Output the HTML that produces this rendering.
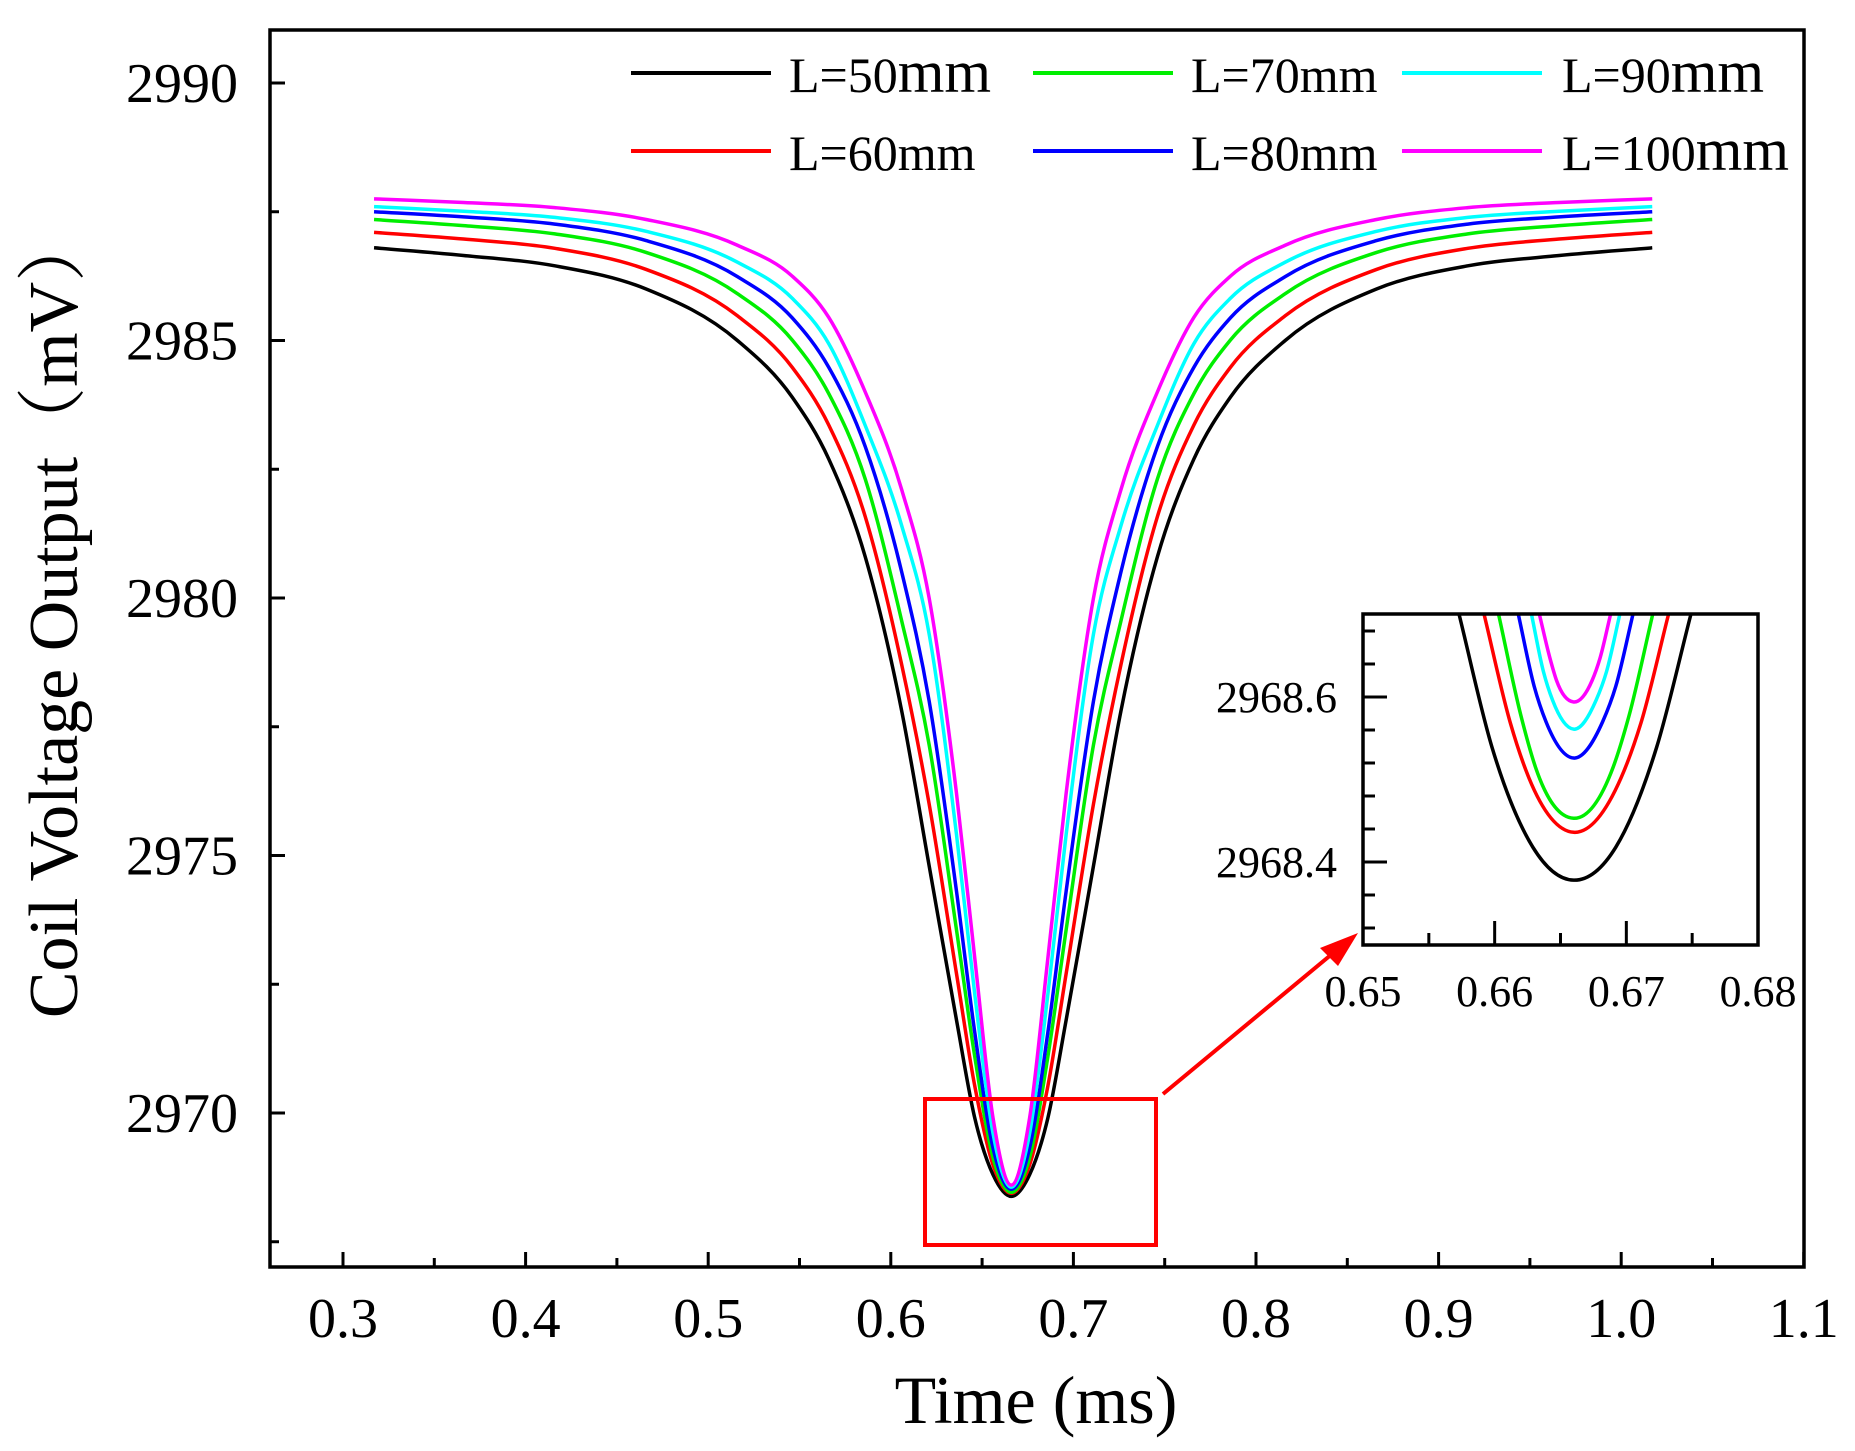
<!DOCTYPE html>
<html><head><meta charset="utf-8"><style>
html,body{margin:0;padding:0;background:#fff;}
svg{display:block;}
text{font-family:"Liberation Serif","Times New Roman",serif;fill:#000;}
</style></head>
<body>
<svg id="chart" width="1855" height="1451" viewBox="0 0 1855 1451" xmlns="http://www.w3.org/2000/svg">
<defs>
<clipPath id="mainClip"><rect x="270" y="30" width="1534" height="1237"/></clipPath>
<clipPath id="insetClip"><rect x="1363" y="614" width="395" height="331"/></clipPath>
</defs>
<g id="main-g"></g>
</svg>
<script>
// ---- main chart data ----
const xsMain = [0.317,0.366,0.416,0.466,0.516,0.546,0.566,0.586,0.606,0.621,0.636,0.646,0.656,0.666,0.676,0.686,0.696,0.711,0.726,0.746,0.766,0.786,0.816,0.866,0.916,0.966,1.017];
const seriesNames = ["L=50mm","L=60mm","L=70mm","L=80mm","L=90mm","L=100mm"];
const seriesColors = ["#000000","#ff0000","#00ee00","#0000ff","#00ffff","#ff00ff"];
const yL50 = [2986.80,2986.65,2986.45,2986.00,2985.00,2983.90,2982.70,2980.80,2977.80,2974.80,2971.80,2969.90,2968.80,2968.38,2968.80,2969.90,2971.80,2974.80,2977.80,2980.80,2982.70,2983.90,2985.00,2986.00,2986.45,2986.65,2986.80];
const yL60 = [2987.10,2986.97,2986.79,2986.38,2985.48,2984.48,2983.36,2981.58,2978.70,2976.00,2972.70,2970.52,2968.99,2968.44,2968.99,2970.52,2972.70,2976.00,2978.70,2981.58,2983.36,2984.48,2985.48,2986.38,2986.79,2986.97,2987.10];
const yL70 = [2987.35,2987.23,2987.07,2986.71,2985.91,2985.01,2983.97,2982.31,2979.55,2977.15,2973.55,2971.09,2969.13,2968.46,2969.13,2971.09,2973.55,2977.15,2979.55,2982.31,2983.97,2985.01,2985.91,2986.71,2987.07,2987.23,2987.35];
const yL80 = [2987.50,2987.40,2987.26,2986.94,2986.24,2985.44,2984.48,2982.94,2980.50,2978.00,2974.30,2971.56,2969.32,2968.52,2969.32,2971.56,2974.30,2978.00,2980.50,2982.94,2984.48,2985.44,2986.24,2986.94,2987.26,2987.40,2987.50];
const yL90 = [2987.60,2987.51,2987.39,2987.12,2986.52,2985.82,2984.94,2983.35,2981.40,2979.30,2975.40,2972.30,2969.60,2968.56,2969.60,2972.30,2975.40,2979.30,2981.40,2983.35,2984.94,2985.82,2986.52,2987.12,2987.39,2987.51,2987.60];
const yL100 = [2987.75,2987.68,2987.58,2987.35,2986.85,2986.25,2985.45,2984.00,2982.10,2980.00,2976.20,2973.00,2969.90,2968.60,2969.90,2973.00,2976.20,2980.00,2982.10,2984.00,2985.45,2986.25,2986.85,2987.35,2987.58,2987.68,2987.75];
const xTickLabels = ["0.3","0.4","0.5","0.6","0.7","0.8","0.9","1.0","1.1"];
const yTickLabels = ["2970","2975","2980","2985","2990"];
// ---- inset data ----
const inX50 = [0.6573,0.6598,0.6629,0.666,0.6692,0.6723,0.6749];
const inY50 = [2968.70,2968.539,2968.418,2968.378,2968.418,2968.539,2968.70];
const inX60 = [0.6592,0.6612,0.6626,0.666,0.6696,0.6711,0.6732];
const inY60 = [2968.70,2968.568,2968.502,2968.436,2968.502,2968.568,2968.70];
const inX70 = [0.6603,0.662,0.6631,0.666,0.669,0.6702,0.672];
const inY70 = [2968.70,2968.577,2968.515,2968.453,2968.515,2968.577,2968.70];
const inX80 = [0.6618,0.663,0.6639,0.666,0.6682,0.6692,0.6705];
const inY80 = [2968.70,2968.613,2968.57,2968.526,2968.57,2968.613,2968.70];
const inX90 = [0.6628,0.6637,0.6644,0.666,0.6677,0.6685,0.6695];
const inY90 = [2968.70,2968.631,2968.596,2968.561,2968.596,2968.631,2968.70];
const inX100 = [0.6634,0.6642,0.6647,0.666,0.6674,0.668,0.6688];
const inY100 = [2968.70,2968.647,2968.62,2968.594,2968.62,2968.647,2968.70];
const insetXTickLabels = ["0.65","0.66","0.67","0.68"];
const insetYTickLabels = ["2968.4","2968.6"];

const NS = "http://www.w3.org/2000/svg";
const root = document.getElementById("main-g");
function mk(tag, attrs, parent){
  const e = document.createElementNS(NS, tag);
  for (const k in attrs) e.setAttribute(k, attrs[k]);
  (parent||root).appendChild(e);
  return e;
}
const PX0=270, PX1=1804, PY0=30, PY1=1267;
function sx(v){ return 343 + (v-0.3)/0.1*182.6; }
function sy(v){ return 1113 - (v-2970)/5*257.5; }
const IX0=1363, IX1=1758, IY0=614, IY1=945;
function ix(v){ return IX0 + (v-0.65)/0.03*(IX1-IX0); }
function iy(v){ return 862 - (v-2968.4)/0.2*165; }

function smoothPath(px, py){
  const n = px.length, m = [];
  for (let i=0;i<n;i++){
    if (i===0) m.push((py[1]-py[0])/(px[1]-px[0]));
    else if (i===n-1) m.push((py[n-1]-py[n-2])/(px[n-1]-px[n-2]));
    else {
      const h0 = px[i]-px[i-1], h1 = px[i+1]-px[i];
      const s0 = (py[i]-py[i-1])/h0, s1 = (py[i+1]-py[i])/h1;
      m.push((s0*h1 + s1*h0)/(h0+h1));
    }
  }
  let d = "M"+px[0].toFixed(2)+","+py[0].toFixed(2);
  for (let i=0;i<n-1;i++){
    const h = px[i+1]-px[i];
    d += " C"+(px[i]+h/3).toFixed(2)+","+(py[i]+m[i]*h/3).toFixed(2)+" "+(px[i+1]-h/3).toFixed(2)+","+(py[i+1]-m[i+1]*h/3).toFixed(2)+" "+px[i+1].toFixed(2)+","+py[i+1].toFixed(2);
  }
  return d;
}

const mainYs = [yL50,yL60,yL70,yL80,yL90,yL100];
const seriesGroup = mk("g", {"clip-path":"url(#mainClip)"});


mainYs.forEach((ys, k) => {
  const p = mk("path", {d: smoothPath(xsMain.map(sx), ys.map(sy)), fill:"none", stroke:seriesColors[k], "stroke-width":3.5, "stroke-linejoin":"round"}, seriesGroup);
  
  
});

const frame = mk("rect", {x:PX0, y:PY0, width:PX1-PX0, height:PY1-PY0, fill:"none", stroke:"#000", "stroke-width":3.5});



for (let i=0;i<xTickLabels.length;i++){
  const v = parseFloat(xTickLabels[i]);
  const x = sx(v);
  const t = mk("line", {x1:x, y1:PY1, x2:x, y2:PY1-15, stroke:"#000", "stroke-width":3});
  
  
  if (i < xTickLabels.length-1){
    const m = mk("line", {x1:sx(v+0.05), y1:PY1, x2:sx(v+0.05), y2:PY1-9, stroke:"#000", "stroke-width":3});
    
    
  }
  const lb = mk("text", {x:x, y:1337, "text-anchor":"middle", "font-size":56});
  lb.textContent = xTickLabels[i];
  
  
}
for (let i=0;i<yTickLabels.length;i++){
  const v = parseFloat(yTickLabels[i]);
  const y = sy(v);
  const t = mk("line", {x1:PX0, y1:y, x2:PX0+15, y2:y, stroke:"#000", "stroke-width":3});
  
  
  const m = mk("line", {x1:PX0, y1:sy(v-2.5), x2:PX0+9, y2:sy(v-2.5), stroke:"#000", "stroke-width":3});
  
  
  const lb = mk("text", {x:238, y:y+19, "text-anchor":"end", "font-size":56});
  lb.textContent = yTickLabels[i];
  
  
}
const xt = mk("text", {x:1036, y:1423, "text-anchor":"middle", "font-size":68});
xt.textContent = "Time (ms)";


const yt = mk("text", {x:0, y:0, "text-anchor":"middle", "font-size":70, transform:"translate(77,615) rotate(-90)", style:'font-family:"Liberation Serif","Noto Serif CJK SC",serif'});
yt.textContent = "Coil Voltage Output（mV）";



// legend
const legendOrder = [0,2,4,1,3,5];
const legBigMm = [true,false,false,false,true,true];
const legX = [631,1033,1402];
const legLabelX = [789,1191,1562];
const legLineY = [73,151];
legendOrder.forEach((k, idx) => {
  const col = idx % 3, row = Math.floor(idx/3);
  const g = mk("g", {});
  
  
  mk("line", {x1:legX[col], y1:legLineY[row], x2:legX[col]+140, y2:legLineY[row], stroke:seriesColors[k], "stroke-width":4}, g);
  const tx = mk("text", {x:legLabelX[col], y:legLineY[row]+19, "font-size":50}, g);
  const name = seriesNames[k];
  const t1 = mk("tspan", {}, tx);
  t1.textContent = name.slice(0, name.length-2);
  const t2 = mk("tspan", {"font-size": legBigMm[k] ? 60 : 50}, tx);
  t2.textContent = "mm";
});

const zb = mk("rect", {x:925, y:1099, width:231, height:146, fill:"none", stroke:"#ff0000", "stroke-width":4});


const ar = mk("line", {x1:1163, y1:1094, x2:1338, y2:949, stroke:"#ff0000", "stroke-width":4});


const ah = mk("polygon", {points:"1358,933 1320,948 1338,966", fill:"#ff0000"});



const inset = mk("g", {});


mk("rect", {x:IX0, y:IY0, width:IX1-IX0, height:IY1-IY0, fill:"#fff", stroke:"none"}, inset);
const inXs = [inX50,inX60,inX70,inX80,inX90,inX100];
const inYs = [inY50,inY60,inY70,inY80,inY90,inY100];
const inLines = mk("g", {"clip-path":"url(#insetClip)"}, inset);
inXs.forEach((xs, k) => {
  const p = mk("path", {d: smoothPath(xs.map(ix), inYs[k].map(iy)), fill:"none", stroke:seriesColors[k], "stroke-width":3.5, "stroke-linejoin":"round"}, inLines);
  
  
});
mk("rect", {x:IX0, y:IY0, width:IX1-IX0, height:IY1-IY0, fill:"none", stroke:"#000", "stroke-width":3.5}, inset);
for (let v=2968.32; v<2968.69; v+=0.04){
  const y = iy(v);
  const major = Math.abs(v-2968.4)<0.005 || Math.abs(v-2968.6)<0.005;
  mk("line", {x1:IX0, y1:y, x2:IX0+(major?24:12), y2:y, stroke:"#000", "stroke-width":3}, inset);
}
insetYTickLabels.forEach(lbv => {
  const t = mk("text", {x:1337, y:iy(parseFloat(lbv))+15, "text-anchor":"end", "font-size":44}, inset);
  t.textContent = lbv;
  
  
});
insetXTickLabels.forEach((lbv, i) => {
  const v = parseFloat(lbv);
  const x = ix(v);
  if (i>0 && i<insetXTickLabels.length-1) mk("line", {x1:x, y1:IY1, x2:x, y2:IY1-24, stroke:"#000", "stroke-width":3}, inset);
  if (i<insetXTickLabels.length-1) mk("line", {x1:ix(v+0.005), y1:IY1, x2:ix(v+0.005), y2:IY1-12, stroke:"#000", "stroke-width":3}, inset);
  const t = mk("text", {x:x, y:1006, "text-anchor":"middle", "font-size":44}, inset);
  t.textContent = lbv;
  
  
});
</script>
</body></html>
